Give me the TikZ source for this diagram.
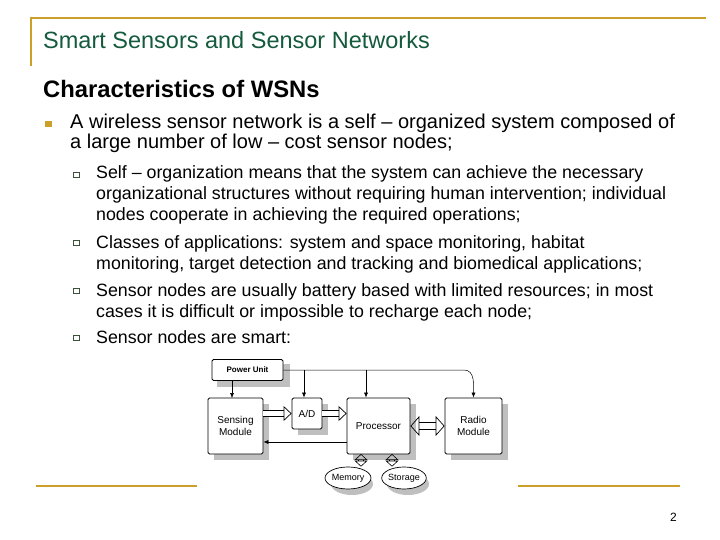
\documentclass[tikz,border=0pt]{standalone}
\usepackage{fontspec}
\setmainfont{Liberation Sans}
\usetikzlibrary{arrows.meta,shapes.geometric}
\definecolor{gold}{RGB}{204,160,40}
\definecolor{tgreen}{RGB}{20,90,60}
\definecolor{boxc}{RGB}{60,80,60}
\begin{document}
\begin{tikzpicture}[x=1pt,y=-1pt,
  blk/.style={draw,line width=0.8pt,fill=white,rounded corners=1.5pt,font=\fontsize{10}{12}\selectfont,align=center,inner sep=0pt},
  shd/.style={fill=gray!50},
  fat/.style={double=white,double distance=5pt,line width=0.7pt,-{Triangle[open,length=8pt,width=15pt]}},
  fatb/.style={double=white,double distance=6pt,line width=0.7pt,{Triangle[open,length=9pt,width=20pt]}-{Triangle[open,length=9pt,width=20pt]}},
  fats/.style={double=white,double distance=4pt,line width=0.6pt,{Triangle[open,length=6pt,width=13pt]}-{Triangle[open,length=6pt,width=13pt]}},
  thin/.style={line width=0.5pt,-{Latex[length=5pt,width=4pt]}},
  txt/.style={anchor=base west,inner sep=0pt,align=left},
  sub/.style={txt,font=\fontsize{17.8}{21}\selectfont},
  sq/.style={draw=boxc,line width=0.6pt}]
\useasboundingbox (0,0) rectangle (720,540);
\fill[white] (0,0) rectangle (720,540);
% frame
\draw[gold,line width=2.5pt] (30,18) -- (706,18);
\draw[gold,line width=2.5pt] (31,17) -- (31,66);
\draw[gold,line width=2.5pt] (36,486) -- (197,486);
\draw[gold,line width=2.5pt] (518,486) -- (680,486);
\node[txt,text=tgreen,font=\fontsize{23.5}{28}\selectfont] (title) at (43,49) {Smart Sensors and Sensor Networks};
\node[txt,font=\bfseries\fontsize{23.8}{26}\selectfont] (head) at (43,98) {Characteristics of WSNs};
\fill[gold] (45,121) rectangle (52,127);
\node[txt,font=\fontsize{20}{20}\selectfont] (b1) at (70,129) {A wireless sensor network is a self -- organized system composed of};
\node[txt,font=\fontsize{20}{20}\selectfont] (b1b) at (70,149) {a large number of low -- cost sensor nodes;};
\foreach \y in {172,240,288,335} {\draw[sq] (73,\y) rectangle +(6,5);}
\node[sub] (s1) at (96,179) {Self -- organization means that the system can achieve the necessary};
\node[sub] (s2) at (96,200) {organizational structures without requiring human intervention; individual};
\node[sub] (s3) at (96,221) {nodes cooperate in achieving the required operations;};
\node[sub] (s4) at (96,248) {Classes of applications: system and space monitoring, habitat};
\node[sub] (s5) at (96,269) {monitoring, target detection and tracking and biomedical applications;};
\node[sub] (s6) at (96,296) {Sensor nodes are usually battery based with limited resources; in most};
\node[sub] (s7) at (96,317) {cases it is difficult or impossible to recharge each node;};
\node[sub] (s8) at (96,343) {Sensor nodes are smart:};
\node[txt,font=\fontsize{12}{14}\selectfont] (pg) at (670,521) {2};
% diagram shadows
\fill[shd] (217,364) rectangle (290,387);
\fill[shd] (214,404) rectangle (269,460);
\fill[shd] (298,404) rectangle (328,435);
\fill[shd] (353,404) rectangle (416,460);
\fill[shd] (451,404) rectangle (508,460);
\fill[shd] (352,484) ellipse (21 and 11);
\fill[shd] (408,484) ellipse (21 and 11);
% blocks
\node[blk,minimum width=71,minimum height=21,font=\bfseries\fontsize{8}{9}\selectfont] (pu) at (247.5,370) {Power Unit};
\node[blk,minimum width=55,minimum height=56] (sm) at (235.5,426) {Sensing\\Module};
\node[blk,minimum width=30,minimum height=31] (ad) at (307,413.5) {A/D};
\node[blk,minimum width=63,minimum height=56] (pr) at (378.5,426) {Processor};
\node[blk,minimum width=57,minimum height=56] (rm) at (473.5,426) {Radio\\Module};
\node[draw,ellipse,fill=white,line width=0.7pt,minimum width=42,minimum height=22,inner sep=0pt,font=\fontsize{9}{10}\selectfont] (mem) at (348,478) {Memory};
\node[draw,ellipse,fill=white,line width=0.7pt,minimum width=42,minimum height=22,inner sep=0pt,font=\fontsize{9}{10}\selectfont] (sto) at (404,478) {Storage};
% connectors
\coordinate (c1) at (304,370);
\coordinate (c2) at (366,370);
\draw[line width=0.5pt,-{Latex[length=5pt,width=4pt]}] (pu.east) -- (464,370) to[out=0,in=90] (rm.north);
\draw[thin] (c1) -- (c1 |- ad.north);
\draw[thin] (c2) -- (c2 |- pr.north);
\draw[thin] (232,380.5) -- (232,398);
\draw[fat] (sm.east |- ad) -- (ad.west);
\draw[fat] (ad.east) -- (pr.west |- ad);
\draw[fatb] (pr.east) -- (rm.west);
\draw[thin] (pr.west |- 0,442) -- (sm.east |- 0,442);
\draw[fats] (mem.north -| 361,0) -- (361,454);
\draw[fats] (sto.north -| 392,0) -- (392,454);
\end{tikzpicture}
\end{document}
